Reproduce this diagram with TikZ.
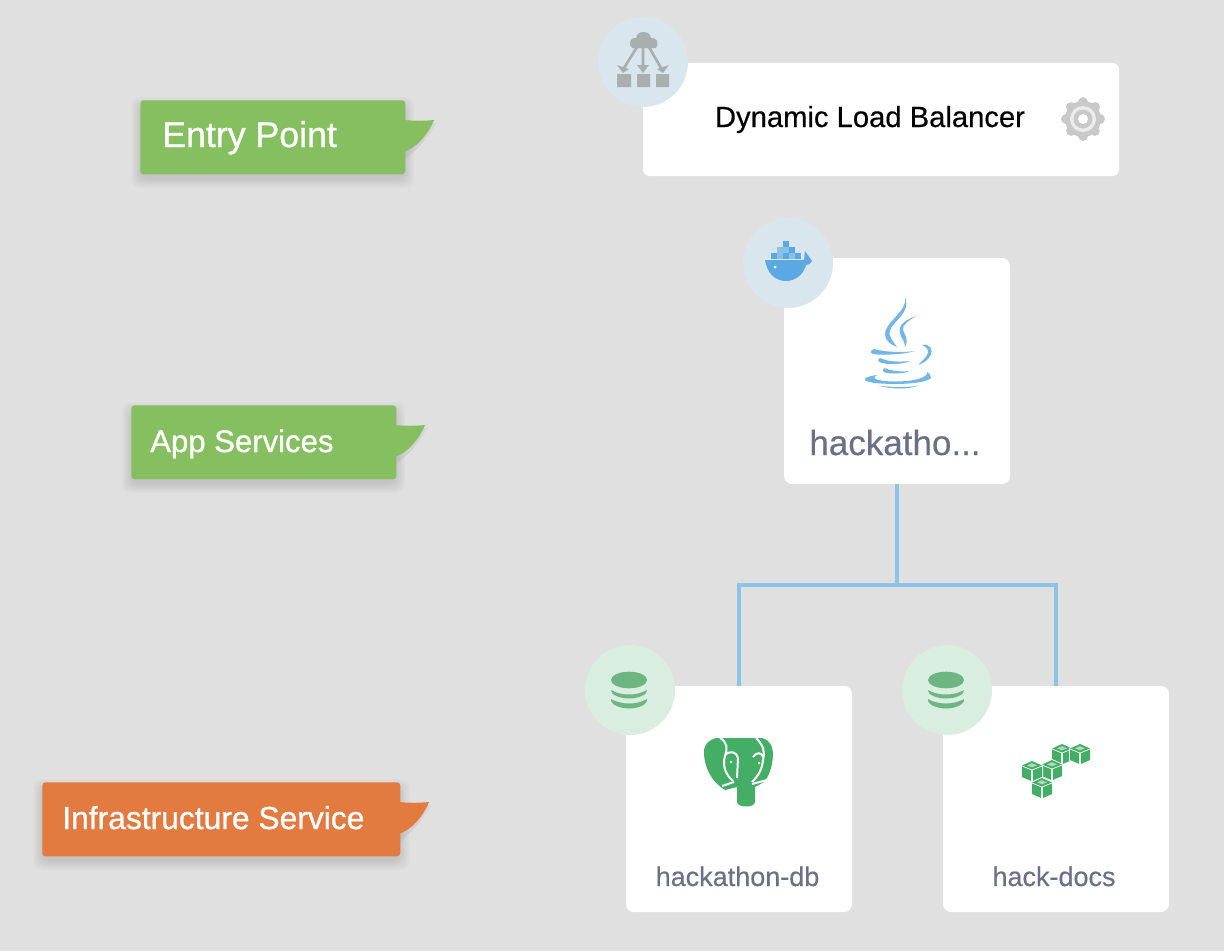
\documentclass[tikz,border=0pt]{standalone}
\usepackage{fontspec}
\setmainfont{Liberation Sans}
\newfontfamily\tagfont[FakeBold=0.9]{Liberation Sans}
\newfontfamily\capfont[FakeBold=0.35]{Liberation Sans}
\definecolor{bgc}{HTML}{E0E0E0}
\definecolor{tagg}{HTML}{85BF60}
\definecolor{tago}{HTML}{E37A40}
\definecolor{cap}{HTML}{6B7086}
\definecolor{linkc}{HTML}{8CC3E8}
\definecolor{blueb}{HTML}{D9E6EE}
\definecolor{greenb}{HTML}{D9EDE0}
\definecolor{dbg}{HTML}{6DB682}
\definecolor{pg}{HTML}{45AE66}
\definecolor{javac}{HTML}{72B5E7}
\definecolor{whale}{HTML}{5AA9E2}
\definecolor{lbg}{HTML}{A9AEB0}
\definecolor{gearc}{HTML}{C9C9C9}
\newcommand{\pxf}[1]{\pgfmathsetmacro{\fsz}{#1*0.75}\fontsize{\fsz pt}{\fsz pt}\selectfont}
\tikzset{
  x=0.75pt,y=-0.75pt,
  card/.style={fill=white,rounded corners=6pt,inner sep=0pt,minimum width=169.5pt,minimum height=169.5pt},
  lbcard/.style={fill=white,rounded corners=5pt,inner sep=0pt,minimum width=357pt,minimum height=84.75pt},
  badge/.style={circle,inner sep=0pt,minimum size=67.5pt},
  tagbox/.style={rounded corners=2.5pt,inner sep=0pt,minimum height=55.5pt},
  tagtext/.style={text=white,inner sep=0pt,anchor=base west},
  captext/.style={text=cap,inner sep=0pt,anchor=base},
  linkline/.style={draw=linkc,line width=3pt},
}
% tag: name, colour, left, right, top, text x, text size, text
\newcommand{\tagshape}[8]{%
  \foreach \g in {9,7.5,6,4.5,3,1.5,0}{%
    \fill[black,opacity=0.016,rounded corners=6pt] (#3-\g,#5+6-\g) rectangle (#4+\g,#5+74+5+\g);
  }%
  \foreach \g in {5,3,1}{%
    \fill[black,opacity=0.02] (#4,#5+23) -- (#4+27+\g,#5+23) .. controls (#4+22,#5+40) and (#4+12,#5+50) .. (#4,#5+56+\g) -- cycle;
  }%
  \fill[#2] (#4-1,#5+20) .. controls (#4+9,#5+21) and (#4+19,#5+21) .. (#4+29,#5+20) .. controls (#4+22,#5+36) and (#4+12,#5+47) .. (#4-1,#5+52) -- cycle;
  \node[tagbox,fill=#2,minimum width={(#4-#3)*0.75pt},anchor=north west] (#1) at (#3,#5) {};
  \node[tagtext] (#1text) at (#6,#5+47) {\pxf{#7}\tagfont #8};
}
\newcommand{\dbstack}[2]{%
  \begin{scope}[shift={(#1,#2)}]
    \fill[dbg] (0,0) ellipse [x radius=18,y radius=8.3];
    \fill[dbg] (-18,10) .. controls (-8,16) and (8,16) .. (18,10) .. controls (19,15) and (8,18.5) .. (0,18.5) .. controls (-8,18.5) and (-19,15) .. (-18,10) -- cycle;
    \fill[dbg] (-18,19) .. controls (-8,25) and (8,25) .. (18,19) .. controls (19,25) and (8,28.5) .. (0,28.5) .. controls (-8,28.5) and (-19,25) .. (-18,19) -- cycle;
  \end{scope}}
\newcommand{\isocube}[2]{%
  \begin{scope}[shift={(#1,#2)}]
    \fill[white] (-11,-6) -- (0,-11) -- (11,-6) -- (11,6.5) -- (0,11) -- (-11,6.5) -- cycle;
    \fill[pg] (-10,-5.5) -- (0,-10) -- (10,-5.5) -- (0,-1.5) -- cycle;
    \fill[pg!45!white] (-5,-5.7) -- (0,-7.8) -- (5,-5.7) -- (0,-3.6) -- cycle;
    \fill[pg] (-10,-4.5) -- (-0.8,-0.8) -- (-0.8,10) -- (-10,6) -- cycle;
    \fill[pg] (10,-4.5) -- (0.8,-0.8) -- (0.8,10) -- (10,6) -- cycle;
  \end{scope}}
\begin{document}
\begin{tikzpicture}
\fill[bgc] (0,0) rectangle (1224,951);
\useasboundingbox (0,0) rectangle (1224,951);

% tags
\tagshape{entry}{tagg}{140}{405}{100}{162}{35.7}{Entry Point}
\tagshape{app}{tagg}{131}{396}{405}{150}{31.1}{App Services}
\tagshape{infra}{tago}{42}{400}{782}{62}{31.8}{Infrastructure Service}

% cards
\node[lbcard] (lb) at (881,119.5) {};
\node[card] (java) at (897,371) {};
\node[card] (db) at (739,799) {};
\node[card] (docs) at (1056,799) {};

% connectors
\coordinate (bus) at (897,585);
\draw[linkline] (java.south) -- (bus);
\draw[linkline] (db.north) |- (bus) -| (docs.north);

% badges
\node[badge,fill=blueb] (lbbadge) at (643,62) {};
\node[badge,fill=blueb] (javabadge) at (788,263) {};
\node[badge,fill=greenb] (dbbadge) at (630,690) {};
\node[badge,fill=greenb] (docsbadge) at (947,690) {};

% captions
\node[inner sep=0pt,text=black,anchor=base] (lbtext) at (870,127) {\pxf{29.2}\capfont Dynamic Load Balancer};
\node[captext] (javatext) at (895,455) {\pxf{35}\capfont hackatho...};
\node[captext] (dbtext) at (737.5,886) {\pxf{27}\capfont hackathon-db};
\node[captext] (docstext) at (1054,886) {\pxf{27}\capfont hack-docs};

% load balancer icon
\fill[lbg] (632,48) .. controls (627,42) and (632,37) .. (636,38) .. controls (637,30) and (650,30) .. (651,38) .. controls (656,37) and (660,43) .. (656,48) -- cycle;
\draw[lbg,line width=2pt] (637,47) -- (624,68) (643,47) -- (643,68) (649,47) -- (661,68);
\fill[lbg] (617,65) -- (623,73) -- (629,69) -- cycle (637,65) -- (643,73) -- (649,65) -- cycle (669,65) -- (663,73) -- (657,69) -- cycle;
\fill[lbg] (617,74) rectangle (631,87) (637,74) rectangle (650,87) (656,74) rectangle (669,87);

% gear
\begin{scope}[shift={(1083,119)}]
  \foreach \a in {0,45,...,315}{
    \fill[gearc,rotate=\a] (-6,-15) .. controls (-4,-20) and (-3,-22) .. (0,-22) .. controls (3,-22) and (4,-20) .. (6,-15) -- cycle;
  }
  \fill[gearc] (0,0) circle [radius=18];
  \fill[gearc!35!white] (0,0) circle [radius=13];
  \fill[gearc] (0,0) circle [radius=9.5];
  \fill[white] (0,0) circle [radius=5];
\end{scope}

% whale
\fill[whale] (765,260) -- (804,260) .. controls (805,256) and (804,253) .. (805,251) .. controls (807,254) and (810,258) .. (812,261) .. controls (810,264) and (808,265) .. (806,265) .. controls (803,276) and (794,281) .. (786,281) .. controls (775,281) and (767,273) .. (765,260) -- cycle;
\fill[white] (775,267) circle [radius=1.5];
\foreach \cx/\cy/\op in {783/241/1,777/247/.6,783/247/.6,789/247/1,771/253/1,777/253/.6,783/253/1,789/253/.6,795/253/1}{
  \fill[whale,opacity=\op] (\cx,\cy) rectangle ++(5.6,5.6);
}

% java
\begin{scope}[javac]
  \fill (905,297) .. controls (908,312) and (884,322) .. (885,335) .. controls (886,342) and (892,345) .. (897,347) .. controls (893,341) and (888,337) .. (890,330) .. controls (894,320) and (911,313) .. (905,297) -- cycle;
  \fill (916,316) .. controls (905,320) and (898,325) .. (900,333) .. controls (901,338) and (905,341) .. (905,347) .. controls (909,340) and (905,335) .. (903,330) .. controls (902,325) and (908,321) .. (916,316) -- cycle;
  \fill (874,349) .. controls (868,352) and (870,354) .. (878,354.5) .. controls (890,355) and (905,354) .. (915,351) .. controls (905,352.5) and (885,352.5) .. (874,349) -- cycle;
  \fill (880,358) .. controls (875,361) and (880,363.5) .. (890,364) .. controls (898,364) and (905,363.5) .. (910,361) .. controls (900,362) and (888,362) .. (880,358) -- cycle;
  \fill (884,368) .. controls (880,372) and (886,373.5) .. (894,373.5) .. controls (900,373.5) and (906,373) .. (909,371) .. controls (900,372) and (892,371) .. (884,368) -- cycle;
  \fill (922,345) .. controls (930,343) and (934,350) .. (930,356) .. controls (928,360) and (924,363) .. (918,365) .. controls (923,360) and (928,356) .. (928,352) .. controls (928,348) and (925,346) .. (922,345) -- cycle;
  \fill (877,375) .. controls (862,377) and (860,381) .. (875,383) .. controls (895,385) and (925,384) .. (931,378) .. controls (931,375) and (929,373) .. (927,372) .. controls (929,377) and (915,381.5) .. (895,381.5) .. controls (885,381.5) and (868,380) .. (877,375) -- cycle;
  \fill (878,385.5) .. controls (890,389.5) and (910,389.5) .. (918,385.5) .. controls (910,387.5) and (890,387.5) .. (878,385.5) -- cycle;
\end{scope}

% database badges
\dbstack{629}{680}
\dbstack{946}{680}

% postgres elephant
\fill[pg] (716,738) -- (762,738) .. controls (771,740) and (773,748) .. (773,756) .. controls (772,768) and (769,776) .. (764,782) -- (755,787) -- (755,802) .. controls (755,808) and (737,808) .. (737,802) -- (737,787) -- (725,790) .. controls (712,782) and (704,768) .. (704,752) .. controls (704,744) and (709,740) .. (716,738) -- cycle;
\begin{scope}[white,line width=1.5pt]
\draw (720,738) .. controls (727,742) and (728,748) .. (725,756) .. controls (722,766) and (726,775) .. (733,781);
\draw (722,786) -- (734,782);
\draw (725,755) .. controls (730,750) and (737,752) .. (738,758) -- (737,778);
\draw (756,738) .. controls (764,746) and (765,752) .. (763,760) .. controls (762,770) and (758,776) .. (752,782);
\draw (753,757) .. controls (756,752) and (762,752) .. (763,757);
\draw (752,784) -- (767,780);
\end{scope}
\fill[white] (731,762) circle [radius=1.3] (759,763) circle [radius=1.3];

% cubes
\isocube{1062}{754}
\isocube{1080}{754}
\isocube{1052}{770}
\isocube{1032}{771}
\isocube{1042}{788}
\end{tikzpicture}
\end{document}
